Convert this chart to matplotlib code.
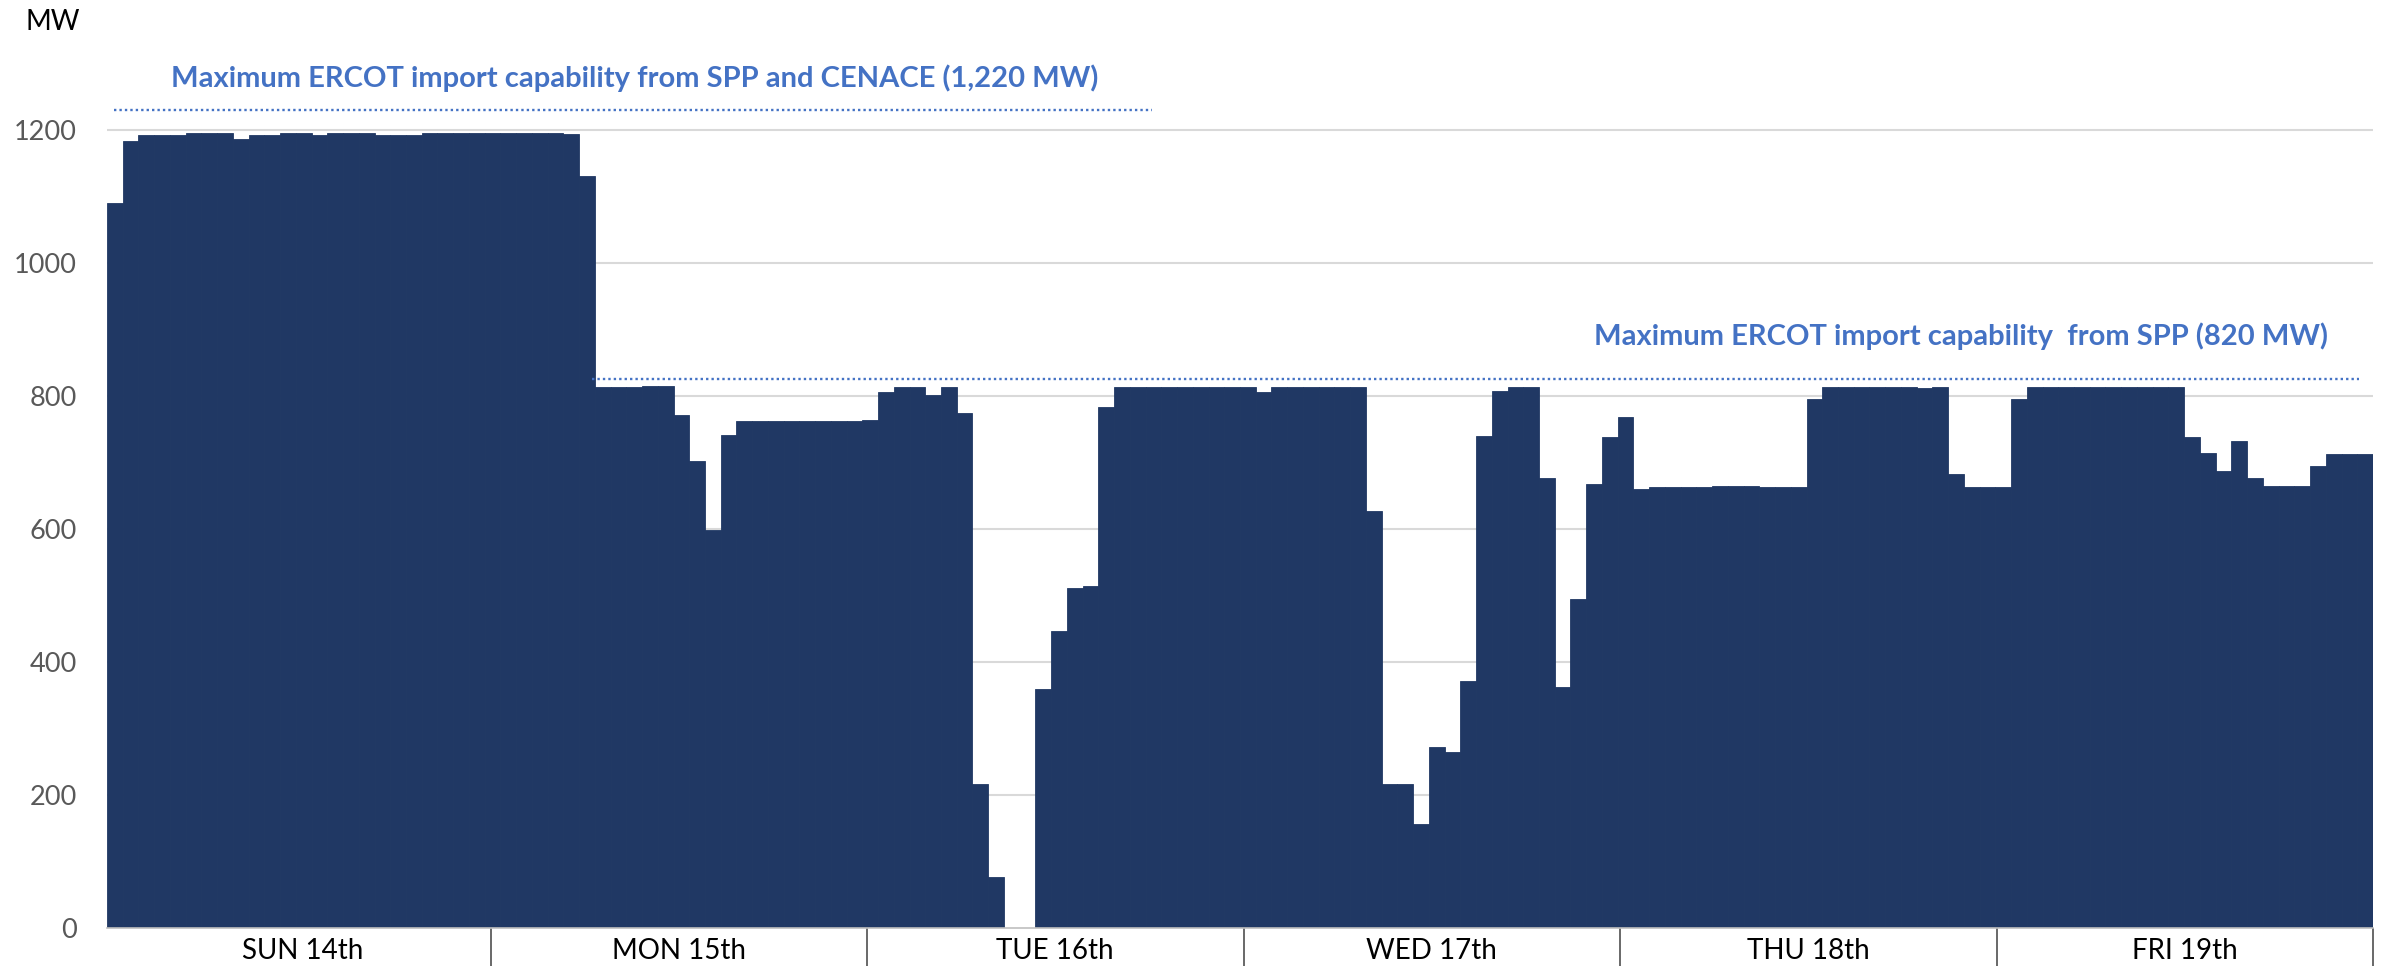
import matplotlib
matplotlib.use("Agg")
import matplotlib.pyplot as plt
from matplotlib.transforms import blended_transform_factory
import numpy as np

# ---------------- data ----------------
days = ["SUN 14th", "MON 15th", "TUE 16th", "WED 17th", "THU 18th", "FRI 19th"]

sun = [1090, 1184, 1193, 1193, 1192, 1195, 1195, 1195, 1187, 1193, 1193, 1195,
       1195, 1193, 1195, 1195, 1195, 1193, 1192, 1193, 1195, 1195, 1196, 1196]
mon = [1195, 1196, 1195, 1196, 1196, 1194, 1131, 813, 813, 813, 815, 815,
       772, 703, 598, 741, 762, 763, 763, 763, 763, 763, 763, 762]
tue = [764, 806, 813, 814, 801, 814, 774, 217, 77, 0, 0, 359,
       446, 512, 515, 783, 813, 814, 814, 813, 814, 814, 813, 814]
wed = [813, 806, 814, 814, 814, 814, 814, 814, 627, 217, 217, 156,
       272, 265, 372, 740, 808, 813, 813, 676, 363, 494, 668, 739]
thu = [769, 660, 663, 663, 663, 663, 664, 665, 664, 663, 663, 663,
       795, 813, 813, 813, 813, 813, 813, 812, 813, 683, 663, 663]
fri = [663, 795, 813, 813, 813, 813, 813, 813, 813, 813, 813, 813,
       739, 714, 687, 732, 677, 664, 664, 664, 694, 713, 713, 713]
imports_mw = sun + mon + tue + wed + thu + fri

y_ticks = [0, 200, 400, 600, 800, 1000, 1200]

cap_labels = ["Maximum ERCOT import capability from SPP and CENACE (1,220 MW)",
              "Maximum ERCOT import capability  from SPP (820 MW)"]
cap_levels = [1230, 826]          # drawn level of the dotted lines (MW)
cap_start = [0.45, 30.8]          # in hour units
cap_end = [66.4, 143.1]

# ---------------- styling ----------------
W, H, DPI = 2387, 969, 100
bar_color = "#203864"
cap_color = "#4472C4"
grid_color = "#D9D9D9"
tick_color = "#595959"
FONT = "Lato"

fig = plt.figure(figsize=(W / DPI, H / DPI), dpi=DPI)
ax_left, ax_right = 107 / W, 2373 / W
ax_bottom = (H - 928) / H
ax = fig.add_axes([ax_left, ax_bottom, ax_right - ax_left, 1 - ax_bottom])

n = len(imports_mw)
x = np.arange(n)
ax.bar(x, imports_mw, width=1.0, align="edge", color=bar_color,
       edgecolor=bar_color, linewidth=0.6, zorder=2)

ax.set_xlim(0, n)
ax.set_ylim(0, 928 / (798 / 1200))

# grid
ax.set_yticks(y_ticks)
ax.set_yticklabels([str(v) for v in y_ticks], fontsize=19.5, color=tick_color,
                   family=FONT)
ax.tick_params(axis="y", length=0, pad=21.5)
for v in y_ticks[1:]:
    ax.axhline(v, color=grid_color, linewidth=1.5, zorder=1)

# x axis: day separators and labels (category axis spans from axis_start to n)
axis_start = 0.45
day_w = (n - axis_start) / len(days)
sep = [axis_start + day_w * (i + 1) for i in range(len(days))]
ax.set_xticks(sep)
ax.set_xticklabels([""] * len(sep))
ax.tick_params(axis="x", direction="out", length=27.5, width=1.1,
               color="#404040")
trans = blended_transform_factory(ax.transData, fig.transFigure)
for i, d in enumerate(days):
    ax.text(axis_start + day_w * (i + 0.5), (H - 959) / H, d, transform=trans,
            ha="center", va="baseline", fontsize=20, family=FONT, color="black")

for s in ["top", "right", "left"]:
    ax.spines[s].set_visible(False)
ax.spines["bottom"].set_color("#BFBFBF")
ax.spines["bottom"].set_linewidth(1.2)
ax.spines["bottom"].set_zorder(3)

# capacity lines
for lvl, x0, x1 in zip(cap_levels, cap_start, cap_end):
    ax.hlines(lvl, x0, x1, colors=cap_color, linewidth=1.7,
              linestyles=(0, (1, 1.3)), zorder=3)

fig.text(171 / W, (H - 87) / H, cap_labels[0], color=cap_color, fontsize=21,
         fontweight="bold", family=FONT, ha="left", va="baseline")
fig.text(2328 / W, (H - 345) / H, cap_labels[1], color=cap_color, fontsize=21,
         fontweight="bold", family=FONT, ha="right", va="baseline")

fig.text(25 / W, (H - 30) / H, "MW", fontsize=20, family=FONT, color="black",
         ha="left", va="baseline")

fig.savefig("out.png", dpi=DPI)
